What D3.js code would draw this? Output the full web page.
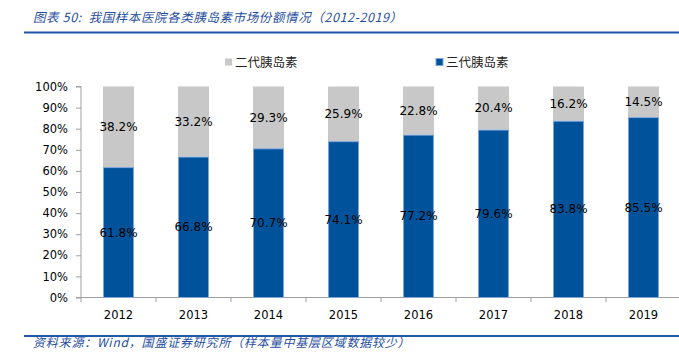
<!DOCTYPE html>
<html><head><meta charset="utf-8">
<script src="https://cdn.jsdelivr.net/npm/d3@7"></script>
<style>
html,body{margin:0;padding:0;background:#fff;}
svg{display:block;}
</style></head>
<body>
<svg id="c" width="679" height="359"></svg>
<script>
const years = ["2012","2013","2014","2015","2016","2017","2018","2019"];
const gen3 = [61.8, 66.8, 70.7, 74.1, 77.2, 79.6, 83.8, 85.5];
const gen2 = [38.2, 33.2, 29.3, 25.9, 22.8, 20.4, 16.2, 14.5];
const seriesNames = ["二代胰岛素", "三代胰岛素"];
const yTicks = [0,10,20,30,40,50,60,70,80,90,100];
const titleText = "图表 50:  我国样本医院各类胰岛素市场份额情况（2012-2019）";
const sourceText = "资料来源：Wind，国盛证券研究所（样本量中基层区域数据较少）";

const svg = d3.select("#c");
const cjk = "'Noto Sans CJK SC', sans-serif";
const num = "'DejaVu Sans', Verdana, sans-serif";
const blue = "#00539b", gray = "#c8c8c8";

// title + rules
svg.append("text").attr("x",33).attr("y",22).text(titleText)
  .style("white-space","pre")
  .attr("font-family",cjk).attr("font-size",12.5).attr("font-style","italic")
  .attr("letter-spacing","0.6px").attr("fill","#1f4e9e");
svg.append("line").attr("x1",24).attr("x2",679).attr("y1",32.5).attr("y2",32.5)
  .attr("stroke","#1f56a8").attr("stroke-width",2);
svg.append("line").attr("x1",24).attr("x2",679).attr("y1",336).attr("y2",336)
  .attr("stroke","#1f56a8").attr("stroke-width",2);
svg.append("text").attr("x",33).attr("y",347).text(sourceText)
  .attr("font-family",cjk).attr("font-size",12).attr("font-style","italic")
  .attr("letter-spacing","0.8px").attr("fill","#1f4e9e");

const x = d3.scaleBand().domain(years).range([81,681]).paddingInner(0.587).paddingOuter(0.2935);
const y = d3.scaleLinear().domain([0,100]).range([297.5,86.5]);

// y axis
const ya = svg.append("g").attr("transform","translate(81,0)")
  .call(d3.axisLeft(y).tickValues(yTicks).tickFormat(d=>d+"%").tickSize(5).tickPadding(8));
ya.select(".domain").attr("stroke","#a0a0a0").attr("d","M-5,86.5H0V297.5H-5");
ya.selectAll(".tick line").attr("stroke","#a0a0a0");
ya.selectAll(".tick text").attr("font-family",num).attr("font-size",11.5).attr("fill","#000");

// x axis with boundary ticks
const step = x.step();
const xa = svg.append("g").attr("transform","translate(0,297.5)")
  .call(d3.axisBottom(x).tickSize(0).tickPadding(13));
xa.select(".domain").attr("stroke","#a0a0a0").attr("d","M81,0H681");
xa.selectAll(".tick text").attr("font-family",num).attr("font-size",11.5).attr("fill","#000");
svg.append("g").selectAll("line").data(years.concat(["end"])).join("line")
  .attr("x1",(d,i)=>81+i*step).attr("x2",(d,i)=>81+i*step)
  .attr("y1",297.5).attr("y2",302).attr("stroke","#a0a0a0");

// bars
const g = svg.append("g");
years.forEach((yr,i)=>{
  const bx = x(yr), bw = x.bandwidth();
  g.append("rect").attr("x",bx).attr("width",bw)
    .attr("y",y(100)).attr("height",y(gen3[i])-y(100)).attr("fill",gray);
  g.append("rect").attr("x",bx+0.5).attr("width",bw-1)
    .attr("y",y(gen3[i])+0.5).attr("height",y(0)-y(gen3[i])-0.5)
    .attr("fill",blue).attr("stroke","#7ea4da").attr("stroke-width",1);
  g.append("text").attr("x",bx+bw/2).attr("y",y(gen3[i]/2)).attr("dy","0.36em")
    .attr("text-anchor","middle").attr("font-family",num).attr("font-size",12)
    .attr("fill","#000").text(gen3[i].toFixed(1)+"%");
  g.append("text").attr("x",bx+bw/2).attr("y",y(gen3[i]+gen2[i]/2)).attr("dy","0.36em")
    .attr("text-anchor","middle").attr("font-family",num).attr("font-size",12)
    .attr("fill","#000").text(gen2[i].toFixed(1)+"%");
});

// legend
const leg = [{n:seriesNames[0],c:gray,x:225},{n:seriesNames[1],c:blue,x:436}];
leg.forEach(l=>{
  svg.append("rect").attr("x",l.x).attr("y",58.5).attr("width",7).attr("height",7)
    .attr("fill",l.c).attr("stroke",l.c===blue?"#7ea4da":"none");
  svg.append("text").attr("x",l.x+10).attr("y",66.5).text(l.n)
    .attr("font-family",cjk).attr("font-size",12.5).attr("fill","#222");
});
</script>
</body></html>
